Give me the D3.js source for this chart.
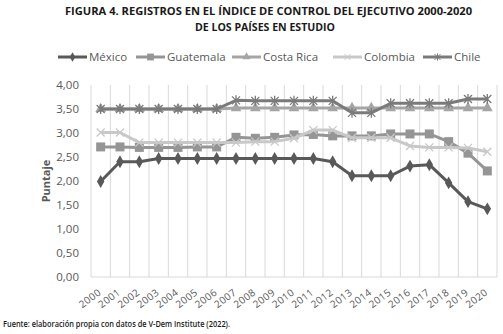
<!DOCTYPE html>
<html>
<head>
<meta charset="utf-8">
<script src="https://cdn.jsdelivr.net/npm/d3@7"></script>
<style>
  body { margin: 0; background: #fff; }
  svg { display: block; font-family: "Open Sans", sans-serif; }
</style>
</head>
<body>
<div id="chart"></div>
<script>
// Years and series
const years = d3.range(2000, 2021).map(String);
const yTicks = [0, 0.5, 1, 1.5, 2, 2.5, 3, 3.5, 4];

const mexico     = [1.99, 2.40, 2.40, 2.47, 2.47, 2.47, 2.47, 2.47, 2.47, 2.47, 2.47, 2.47, 2.40, 2.11, 2.11, 2.11, 2.31, 2.34, 1.96, 1.57, 1.42];
const guatemala  = [2.71, 2.71, 2.70, 2.70, 2.70, 2.71, 2.71, 2.91, 2.89, 2.91, 2.96, 2.97, 2.94, 2.94, 2.94, 2.98, 2.98, 2.98, 2.82, 2.58, 2.21];
const costaRica  = [3.50, 3.50, 3.50, 3.50, 3.50, 3.50, 3.50, 3.52, 3.52, 3.52, 3.52, 3.52, 3.52, 3.52, 3.52, 3.52, 3.52, 3.52, 3.52, 3.52, 3.52];
const colombia   = [3.01, 3.01, 2.80, 2.80, 2.80, 2.80, 2.80, 2.80, 2.82, 2.82, 2.89, 3.06, 3.06, 2.90, 2.90, 2.90, 2.73, 2.70, 2.70, 2.69, 2.61];
const chile      = [3.50, 3.50, 3.50, 3.50, 3.50, 3.50, 3.50, 3.68, 3.67, 3.67, 3.67, 3.67, 3.67, 3.42, 3.42, 3.62, 3.62, 3.62, 3.62, 3.71, 3.71];

const series = [
  { name: "México", values: mexico, color: "#595959", marker: "diamond" },
  { name: "Guatemala", values: guatemala, color: "#959595", marker: "square" },
  { name: "Costa Rica", values: costaRica, color: "#a5a5a5", marker: "triangle" },
  { name: "Colombia", values: colombia, color: "#c8c8c8", marker: "cross" },
  { name: "Chile", values: chile, color: "#7a7a7a", marker: "star" }
];

const W = 503, H = 334;
const margin = { top: 85, right: 6, bottom: 57, left: 91 };
const width = W - margin.left - margin.right;
const height = H - margin.top - margin.bottom;

const svg = d3.select("#chart").append("svg")
  .attr("width", W)
  .attr("height", H);

// Title
const title = svg.append("g").attr("fill", "#1a1a1a")
  .style("font-weight", "bold").style("font-size", "10.5px");
title.append("text").attr("x", 65).attr("y", 15)
  .attr("textLength", 407).attr("lengthAdjust", "spacingAndGlyphs")
  .text("FIGURA 4. REGISTROS EN EL ÍNDICE DE CONTROL DEL EJECUTIVO 2000-2020");
title.append("text").attr("x", 195).attr("y", 31)
  .attr("textLength", 140).attr("lengthAdjust", "spacingAndGlyphs")
  .text("DE LOS PAÍSES EN ESTUDIO");

const g = svg.append("g").attr("transform", `translate(${margin.left},${margin.top})`);

const x = d3.scaleBand().domain(years).range([0, width]);
const y = d3.scaleLinear().domain([0, 4]).range([height, 0]);
const cx = d => x(d) + x.bandwidth() / 2;

// Vertical gridlines at band edges
const edges = years.map(d => x(d)).concat([width]);
g.selectAll(".vgrid").data(edges).enter().append("line")
  .attr("x1", d => d).attr("x2", d => d)
  .attr("y1", 0).attr("y2", height)
  .attr("stroke", "#d9d9d9").attr("stroke-width", 1);

g.append("line").attr("x1", 0).attr("x2", width)
  .attr("y1", height).attr("y2", height)
  .attr("stroke", "#d9d9d9");

// Y axis
const yAxis = g.append("g")
  .call(d3.axisLeft(y).tickValues(yTicks).tickSize(0).tickPadding(12)
    .tickFormat(d => d3.format(".2f")(d).replace(".", ",")));
yAxis.attr("font-family", null);
yAxis.select(".domain").remove();
yAxis.selectAll("text").attr("fill", "#595959").style("font-size", "11.5px");

// X axis, labels slanted
const xAxis = g.append("g").attr("transform", `translate(0,${height})`)
  .call(d3.axisBottom(x).tickSize(0));
xAxis.attr("font-family", null);
xAxis.select(".domain").remove();
xAxis.selectAll("text")
  .attr("fill", "#595959").style("font-size", "10px")
  .style("letter-spacing", "0.4px")
  .attr("text-anchor", "end")
  .attr("x", 0).attr("y", 0).attr("dy", "0.35em")
  .attr("transform", "translate(-1,14) rotate(-37)");

svg.append("text")
  .attr("transform", `translate(50,${margin.top + height / 2}) rotate(-90)`)
  .attr("text-anchor", "middle")
  .attr("fill", "#595959").style("font-size", "11px").style("font-weight", "bold")
  .text("Puntaje");

// Marker drawing
function drawMarker(sel, type, color) {
  if (type === "diamond") {
    sel.append("path").attr("d", d3.symbol(d3.symbolDiamond, 48)()).attr("fill", color);
  } else if (type === "square") {
    sel.append("rect").attr("x", -4.5).attr("y", -4.5).attr("width", 9).attr("height", 9).attr("fill", color);
  } else if (type === "triangle") {
    sel.append("path").attr("d", d3.symbol(d3.symbolTriangle, 50)()).attr("fill", color);
  } else if (type === "cross") {
    sel.append("path").attr("d", "M-4,-4L4,4M-4,4L4,-4").attr("stroke", color).attr("stroke-width", 1.3).attr("fill", "none");
  } else if (type === "star") {
    sel.append("path").attr("d", "M-4,-4L4,4M-4,4L4,-4M0,-5L0,5").attr("stroke", color).attr("stroke-width", 1.3).attr("fill", "none");
  }
}

const line = d3.line().x((d, i) => cx(years[i])).y(d => y(d));

series.forEach(s => {
  g.append("path")
    .datum(s.values)
    .attr("fill", "none")
    .attr("stroke", s.color)
    .attr("stroke-width", 3)
    .attr("stroke-linejoin", "round")
    .attr("d", line);

  g.selectAll(null).data(s.values).enter().append("g")
    .attr("transform", (d, i) => `translate(${cx(years[i])},${y(d)})`)
    .each(function () { drawMarker(d3.select(this), s.marker, s.color); });
});

// Legend
const legendX = [58, 136, 232, 333, 423];
const legend = svg.append("g").attr("transform", "translate(0,57)");
series.forEach((s, i) => {
  const item = legend.append("g").attr("transform", `translate(${legendX[i]},0)`);
  item.append("line").attr("x1", 0).attr("x2", 29).attr("y1", 0).attr("y2", 0)
    .attr("stroke", s.color).attr("stroke-width", 3);
  const m = item.append("g").attr("transform", "translate(14.5,0) scale(0.75)");
  drawMarker(m, s.marker, s.color);
  item.append("text").attr("x", 31).attr("y", 0).attr("dy", "0.35em")
    .attr("fill", "#595959").style("font-size", "11.5px")
    .text(s.name);
});

// Source note
svg.append("text").attr("x", 3).attr("y", 327)
  .attr("textLength", 227).attr("lengthAdjust", "spacingAndGlyphs")
  .attr("fill", "#1a1a1a").style("font-size", "9px").style("font-weight", "600")
  .text("Fuente: elaboración propia con datos de V-Dem Institute (2022).");
</script>
</body>
</html>
